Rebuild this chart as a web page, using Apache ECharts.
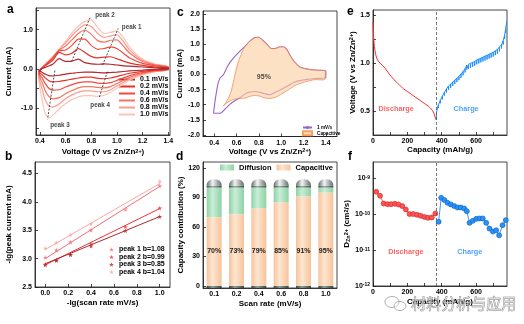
<!DOCTYPE html>
<html><head><meta charset="utf-8">
<script src="https://cdn.jsdelivr.net/npm/echarts@6/dist/echarts.min.js"></script>
<style>html,body{margin:0;padding:0;background:#fff}#c{width:524px;height:324px}</style>
</head><body><div id="c"></div>
<script>
// ================= DATA =================
// Panel a: CV curves at several scan rates
const cvRates = ['0.1 mV/s','0.2 mV/s','0.4 mV/s','0.6 mV/s','0.8 mV/s','1.0 mV/s'];
const vUp   = [0.39,0.41,0.45,0.50,0.55,0.60,0.65,0.70,0.75,0.80,0.85,0.90,0.95,1.00,1.05,1.10,1.20,1.30,1.40];
const vDown = [1.40,1.30,1.20,1.10,1.00,0.95,0.90,0.85,0.80,0.75,0.70,0.65,0.60,0.55,0.50,0.47,0.44,0.42,0.40,0.39];
const iUp01 = [-0.05,0.00,0.05,0.12,0.26,0.19,0.20,0.25,0.16,0.13,0.12,0.13,0.12,0.10,0.08,0.07,0.05,0.03,0.02];
const iUp02 = [-0.08,0.00,0.10,0.22,0.42,0.36,0.40,0.52,0.42,0.32,0.28,0.30,0.31,0.26,0.20,0.15,0.09,0.05,0.03];
const iUp04 = [-0.12,0.00,0.12,0.27,0.46,0.48,0.60,0.76,0.76,0.60,0.50,0.52,0.56,0.52,0.40,0.28,0.14,0.08,0.04];
const iUp06 = [-0.16,0.01,0.13,0.29,0.48,0.58,0.74,0.90,0.99,0.88,0.72,0.68,0.73,0.74,0.58,0.40,0.19,0.10,0.05];
const iUp08 = [-0.20,0.01,0.14,0.30,0.49,0.66,0.85,1.01,1.12,1.08,0.90,0.80,0.84,0.87,0.70,0.48,0.22,0.11,0.05];
const iUp10 = [-0.25,0.02,0.15,0.31,0.50,0.71,0.92,1.09,1.21,1.25,1.05,0.90,0.93,0.97,0.80,0.55,0.25,0.12,0.06];
const iDn01 = [0.00,-0.01,-0.03,-0.05,-0.08,-0.09,-0.10,-0.09,-0.08,-0.08,-0.09,-0.11,-0.13,-0.16,-0.18,-0.17,-0.13,-0.09,-0.06,-0.05];
const iDn02 = [-0.01,-0.03,-0.06,-0.11,-0.19,-0.23,-0.25,-0.24,-0.21,-0.21,-0.23,-0.26,-0.29,-0.32,-0.33,-0.30,-0.22,-0.15,-0.10,-0.08];
const iDn04 = [-0.01,-0.04,-0.09,-0.17,-0.29,-0.35,-0.37,-0.36,-0.33,-0.33,-0.35,-0.40,-0.46,-0.53,-0.54,-0.49,-0.36,-0.24,-0.15,-0.11];
const iDn06 = [-0.02,-0.05,-0.11,-0.21,-0.37,-0.45,-0.48,-0.47,-0.45,-0.45,-0.48,-0.55,-0.63,-0.73,-0.76,-0.70,-0.54,-0.36,-0.22,-0.14];
const iDn08 = [-0.02,-0.06,-0.13,-0.25,-0.43,-0.53,-0.58,-0.58,-0.56,-0.56,-0.59,-0.66,-0.76,-0.89,-0.97,-0.94,-0.78,-0.54,-0.32,-0.18];
const iDn10 = [-0.03,-0.07,-0.15,-0.28,-0.49,-0.60,-0.67,-0.70,-0.68,-0.68,-0.71,-0.78,-0.88,-1.02,-1.18,-1.25,-1.12,-0.82,-0.48,-0.25];
const peakLine1 = [[0.888,0.10],[1.01,1.03]];
const peakLine2 = [[0.647,0.19],[0.795,1.34]];
const peakLine3 = [[0.517,-0.04],[0.46,-1.28]];
const peakLine4 = [[0.925,-0.07],[0.86,-0.75]];
const peakNames = ['peak 1','peak 2','peak 3','peak 4'];
const peakLabelPos = [[1.03,1.06],[0.823,1.36],[0.473,-1.42],[0.785,-0.93]];

// Panel b: log peak current vs log scan rate
const bX = [0, 0.097, 0.22, 0.40, 0.70, 1.0];
const bPeak1 = [3.02, 3.15, 3.29, 3.50, 3.87, 4.28];
const bPeak2 = [2.90, 2.97, 3.07, 3.26, 3.56, 3.89];
const bPeak3 = [2.89, 2.97, 3.07, 3.22, 3.49, 3.74];
const bPeak4 = [3.18, 3.28, 3.42, 3.61, 3.88, 4.36];
const bFitX = [0, 1.0];
const bFit1 = [3.00, 4.27];
const bFit2 = [2.89, 3.88];
const bFit3 = [2.91, 3.74];
const bFit4 = [3.16, 4.32];
const bNames = ['peak 1 b=1.08','peak 2 b=0.99','peak 3 b=0.85','peak 4 b=1.04'];

// Panel c: CV at 1 mV/s and capacitive contribution
const cvV = [0.394,0.41,0.433,0.454,0.484,0.513,0.543,0.588,0.633,0.678,0.722,0.767,0.797,0.833,0.872,0.91,0.946,0.982,1.02,1.05,1.08,1.12,1.17,1.245,1.33,1.39,1.40,1.40,
             1.30,1.215,1.125,1.066,1.006,0.946,0.90,0.857,0.812,0.767,0.722,0.678,0.633,0.588,0.543,0.498,0.454,0.394];
const cvI = [-1.28,-0.83,-0.33,-0.11,0.00,0.22,0.41,0.61,0.78,0.94,1.11,1.22,1.23,1.14,1.00,0.86,0.86,0.91,0.92,0.83,0.63,0.41,0.24,0.17,0.14,0.13,0.11,-0.11,
             -0.13,-0.17,-0.24,-0.36,-0.48,-0.59,-0.67,-0.64,-0.59,-0.56,-0.58,-0.64,-0.76,-0.86,-0.98,-1.14,-1.28,-1.28];
const capV = [0.484,0.498,0.528,0.552,0.573,0.594,0.618,0.648,0.678,0.722,0.767,0.797,0.833,0.872,0.91,0.946,0.982,1.02,1.05,1.08,1.12,1.17,1.245,1.33,1.39,1.395,1.39,
              1.30,1.215,1.125,1.066,1.006,0.946,0.90,0.857,0.812,0.767,0.722,0.678,0.633,0.588,0.543,0.513];
const capI = [-1.03,-0.97,-0.78,-0.56,-0.22,0.11,0.44,0.72,0.94,1.11,1.22,1.23,1.14,1.00,0.86,0.86,0.91,0.92,0.83,0.63,0.41,0.24,0.17,0.14,0.13,0.08,-0.17,
              -0.17,-0.24,-0.36,-0.50,-0.64,-0.76,-0.79,-0.78,-0.72,-0.69,-0.72,-0.78,-0.79,-0.81,-0.87,-0.94];
const capPercentLabel = '95%';
const capLabelPos = [0.845, -0.07];

// Panel d: capacity contribution
const rateLabels = ['0.1','0.2','0.4','0.6','0.8','1.0'];
const capacitivePct = [70, 73, 79, 85, 91, 95];
const diffusionPct = [30, 27, 21, 15, 9, 5];
const capRim = [2, 2, 2, 2, 2, 2];
const capDome = [6.5, 6.5, 6.5, 6.5, 6.5, 6.5];
const capBase = [-2, -2, -2, -2, -2, -2];

// Panel e: GITT curve
const dischargeCap  = [0,3,8,15,24,34,46,58,70,82,94,106,118,130,142,154,166,178,190,202,214,226,238,250,262,274,286,298,310,322,334,346,356,366];
const dischargeV    = [1.42,1.28,1.17,1.09,1.04,1.01,0.99,0.97,0.945,0.915,0.885,0.86,0.835,0.81,0.79,0.77,0.75,0.73,0.715,0.70,0.685,0.67,0.655,0.64,0.625,0.61,0.595,0.58,0.565,0.55,0.53,0.505,0.47,0.41];
const dischargeRest = [1.42,1.28,1.17,1.10,1.055,1.025,1.005,0.985,0.96,0.93,0.90,0.875,0.85,0.825,0.805,0.785,0.765,0.745,0.73,0.715,0.70,0.685,0.67,0.655,0.64,0.625,0.61,0.595,0.58,0.565,0.55,0.525,0.49,0.41];
const chargeCap  = [368,370,380,392,404,416,428,440,452,464,476,488,500,512,524,536,546,556,568,580,592,604,616,628,640,652,664,676,688,700,712,724,736,748,758,766,772,778];
const chargeV    = [0.41,0.49,0.56,0.61,0.655,0.695,0.73,0.76,0.78,0.80,0.82,0.84,0.86,0.885,0.91,0.94,0.975,0.985,0.995,1.005,1.015,1.03,1.04,1.05,1.06,1.07,1.08,1.09,1.10,1.11,1.125,1.14,1.165,1.19,1.23,1.29,1.35,1.43];
const chargeRest = [0.41,0.47,0.53,0.58,0.62,0.66,0.69,0.72,0.74,0.76,0.78,0.80,0.82,0.845,0.87,0.90,0.93,0.94,0.95,0.96,0.97,0.985,0.995,1.005,1.015,1.025,1.035,1.045,1.055,1.065,1.08,1.095,1.12,1.15,1.19,1.25,1.31,1.43];
const dividerCap = 370;

// Panel f: diffusion coefficient
const fDisCap = [19,41,62,84,105,127,148,170,191,213,234,256,277,299,320,342,363];
const fDisD = [4.25e-10,3.3e-10,2.0e-10,1.93e-10,1.93e-10,1.97e-10,1.89e-10,1.7e-10,1.37e-10,1.02e-10,1.02e-10,0.97e-10,0.91e-10,0.85e-10,0.8e-10,0.82e-10,1.06e-10];
const fChCap = [382,397,416,434,453,473,492,511,531,546,562,581,601,620,639,659,678,698,717,734,754,773];
const fChD = [6.2e-11,2.9e-10,2.5e-10,2.1e-10,1.9e-10,1.7e-10,1.56e-10,1.56e-10,1.46e-10,1.23e-10,5.8e-11,6.6e-11,7.5e-11,7.7e-11,7.7e-11,5.8e-11,4.0e-11,3.3e-11,3.6e-11,2.6e-11,5.0e-11,6.9e-11];

// Tick labels
const aXTicks = [0.4,0.6,0.8,1.0,1.2,1.4];
const aYTicks = [-1,0,1];
const aYMinor = [-1.5,-1,-0.5,0,0.5,1,1.5];
const bXTicks = [0,0.2,0.4,0.6,0.8,1.0];
const bYTicks = [2.5,3.0,3.5,4.0,4.5];
const cXTicks = [0.4,0.6,0.8,1.0,1.2,1.4];
const cYTicks = [-2,-1.5,-1,-0.5,0,0.5,1,1.5,2];
const dYTicks = [0,30,60,90,120];
const eXTicks = [0,200,400,600];
const eXMinor = [0,100,200,300,400,500,600,700];
const eYTicks = [0.5,1.0,1.5];
const eYMinor = [0.5,0.75,1.0,1.25,1.5];

// ================= STYLE / BUILD =================
const F = "'Liberation Sans', Arial, sans-serif";
const AX = '#1a1a1a';
const cvColors = ['#b3262b','#e4322b','#f04a3c','#f7725f','#fb9c8e','#fdc3b8'];
const bColors = ['#f26d78','#e8343a','#b3262b','#f8a8a8'];
const star = 'path://M50,0 L61,35 L98,35 L68,57 L79,91 L50,70 L21,91 L32,57 L2,35 L39,35 Z';

function deep(a, b) {
  for (const k in b) {
    const v = b[k];
    if (v && typeof v === 'object' && !Array.isArray(v) && a[k] && typeof a[k] === 'object' && !Array.isArray(a[k])) deep(a[k], v);
    else a[k] = v;
  }
  return a;
}
const richName = {
  n: {fontSize: 8, fontWeight: 'bold', fontFamily: F, color: '#000'},
  s: {fontSize: 5.5, fontWeight: 'bold', fontFamily: F, color: '#000', verticalAlign: 'top'},
  d: {fontSize: 5.5, fontWeight: 'bold', fontFamily: F, color: '#000', verticalAlign: 'bottom'}
};
function axis(gi, o) {
  return deep({
    gridIndex: gi, type: 'value',
    axisLine: {show: true, onZero: false, lineStyle: {color: AX, width: 0.8}},
    axisTick: {show: true, inside: true, length: 3, lineStyle: {color: AX, width: 0.8}},
    axisLabel: {color: '#000', fontSize: 7, fontWeight: 'bold', fontFamily: F, margin: 3},
    splitLine: {show: false},
    nameLocation: 'middle',
    nameTextStyle: {color: '#000', fontSize: 8, fontWeight: 'bold', fontFamily: F, rich: richName}
  }, o);
}
const fx1 = v => Number(v).toFixed(1);

const xAxis = [
  axis(0, {min: 0.37, max: 1.413, name: '{n|Voltage (V vs Zn/Zn}{s|2+}{n|)}', nameGap: 13,
    axisLabel: {customValues: aXTicks, formatter: fx1}, axisTick: {customValues: aXTicks}}),
  axis(1, {min: -0.09, max: 1.09, name: '{n|-lg(scan rate mV/s)}', nameGap: 12,
    axisLabel: {customValues: bXTicks, formatter: fx1}, axisTick: {customValues: bXTicks}}),
  axis(2, {min: 0.3, max: 1.5, name: '{n|Voltage (V vs Zn/Zn}{s|2+}{n|)}', nameGap: 10,
    axisLabel: {customValues: cXTicks, formatter: fx1}, axisTick: {customValues: cXTicks}}),
  axis(3, {type: 'category', data: rateLabels, name: '{n|Scan rate (mV/s)}', nameGap: 12,
    axisTick: {alignWithLabel: true}}),
  axis(4, {min: 0, max: 780, name: '{n|Capacity (mAh/g)}', nameGap: 11,
    axisLabel: {customValues: eXTicks}, axisTick: {customValues: eXMinor}}),
  axis(5, {min: 0, max: 780, name: '{n|Capacity (mAh/g)}', nameGap: 12,
    axisLabel: {customValues: eXTicks}, axisTick: {customValues: eXMinor}})
];
const yAxis = [
  axis(0, {min: -1.68, max: 1.55, name: '{n|Current (mA)}', nameGap: 23,
    axisLabel: {customValues: aYTicks, formatter: fx1}, axisTick: {customValues: aYMinor}}),
  axis(1, {min: 2.5, max: 4.7, name: '{n|-lg(peak current mA)}', nameGap: 22,
    axisLabel: {customValues: bYTicks, formatter: fx1}, axisTick: {customValues: bYTicks}}),
  axis(2, {min: -2.05, max: 2.1, name: '{n|Current (mA)}', nameGap: 16,
    axisLabel: {customValues: cYTicks, formatter: fx1}, axisTick: {customValues: cYTicks}}),
  axis(3, {min: -2, max: 126, name: '{n|Capacity contribution (%)}', nameGap: 16,
    axisLabel: {customValues: dYTicks}, axisTick: {customValues: dYTicks}}),
  axis(4, {min: 0.25, max: 1.55, name: '{n|Voltage (V vs Zn/Zn}{s|2+}{n|)}', nameGap: 15,
    axisLabel: {customValues: eYTicks, formatter: fx1}, axisTick: {customValues: eYMinor}}),
  axis(5, {type: 'log', logBase: 10, min: 1e-12, max: 2.9e-9, name: '{n|D}{d|Zn}{s|2+}{n| (cm}{s|2}{n|/s)}', nameGap: 17,
    axisLabel: {showMaxLabel: false, formatter: v => '{b|10}{s|' + Math.round(Math.log10(v)) + '}',
      rich: {b: {fontSize: 7, fontWeight: 'bold', fontFamily: F, color: '#000'},
             s: {fontSize: 5, fontWeight: 'bold', fontFamily: F, color: '#000', verticalAlign: 'top'}}}})
];

const series = [];
// ---- a ----
const aUps = [iUp01, iUp02, iUp04, iUp06, iUp08, iUp10];
const aDns = [iDn01, iDn02, iDn04, iDn06, iDn08, iDn10];
for (let k = 5; k >= 0; k--) {
  const data = vUp.map((v, i) => [v, aUps[k][i]]).concat(vDown.map((v, i) => [v, aDns[k][i]]));
  data.push(data[0]);
  series.push({type: 'line', name: cvRates[k], xAxisIndex: 0, yAxisIndex: 0, data, smooth: 0.2,
    symbol: 'none', lineStyle: {color: cvColors[k], width: 1.2}, itemStyle: {color: cvColors[k]}, z: 10 - k});
}
[peakLine1, peakLine2, peakLine3, peakLine4].forEach(pl => series.push({
  type: 'line', xAxisIndex: 0, yAxisIndex: 0, data: pl, symbol: 'none', silent: true, z: 20,
  lineStyle: {color: '#222', width: 0.8, type: [2, 1.5]}
}));
series.push({type: 'scatter', xAxisIndex: 0, yAxisIndex: 0, symbolSize: 0, silent: true, z: 21,
  data: peakLabelPos.map((p, i) => ({value: p, name: peakNames[i]})),
  label: {show: true, position: 'right', distance: 1, formatter: p => p.name, color: '#111',
    fontSize: 6.3, fontWeight: 'bold', fontFamily: F}});

// ---- b ----
const bPeaks = [bPeak1, bPeak2, bPeak3, bPeak4];
const bFits = [bFit1, bFit2, bFit3, bFit4];
for (let k = 0; k < 4; k++) {
  series.push({type: 'line', xAxisIndex: 1, yAxisIndex: 1, data: bFitX.map((x, i) => [x, bFits[k][i]]),
    symbol: 'none', silent: true, lineStyle: {color: bColors[k], width: 1}, z: 3});
  series.push({type: 'scatter', name: bNames[k], xAxisIndex: 1, yAxisIndex: 1,
    data: bX.map((x, i) => [x, bPeaks[k][i]]), symbol: star, symbolSize: 5,
    itemStyle: {color: bColors[k]}, z: 5});
}

// ---- c ----
series.push({type: 'line', name: '1 mV/s', xAxisIndex: 2, yAxisIndex: 2, data: cvV.map((v, i) => [v, cvI[i]]),
  smooth: 0.2, symbol: 'none', lineStyle: {color: '#9b62c8', width: 1.1}, itemStyle: {color: '#9b62c8'}, z: 3});
series.push({type: 'custom', name: 'Capacitive', xAxisIndex: 2, yAxisIndex: 2, data: [[0.8, 0]], z: 4, silent: true,
  itemStyle: {color: '#fdd9b5', borderColor: '#f4a260', borderWidth: 0.8},
  renderItem: (params, api) => ({
    type: 'polygon',
    shape: {points: capV.map((v, i) => api.coord([v, capI[i]])), smooth: 0.15},
    style: {fill: 'rgba(252,206,160,0.62)', stroke: 'rgba(240,130,70,0.7)', lineWidth: 1}
  })});
series.push({type: 'scatter', xAxisIndex: 2, yAxisIndex: 2, symbolSize: 0, silent: true, z: 10,
  data: [capLabelPos], label: {show: true, position: 'inside', formatter: capPercentLabel, color: '#222',
    fontSize: 7, fontWeight: 'bold', fontFamily: F}});

// ---- d ----
const cylinder = (edge, mid) => ({type: 'linear', x: 0, y: 0, x2: 1, y2: 0,
  colorStops: [{offset: 0, color: edge}, {offset: 0.4, color: mid}, {offset: 1, color: edge}]});
const barCommon = {type: 'bar', xAxisIndex: 3, yAxisIndex: 3, stack: 'bat', barWidth: 15};
series.push(Object.assign({}, barCommon, {name: 'base', data: capBase, silent: true,
  itemStyle: {color: cylinder('#2f433c', '#8a9b95')}}));
series.push(Object.assign({}, barCommon, {name: 'Capacitive ', data: capacitivePct,
  itemStyle: {color: cylinder('#f7c39a', '#fde6d1')},
  label: {show: true, position: 'insideBottom', distance: 31, formatter: p => p.value + '%',
    color: '#1a1a1a', fontSize: 7, fontWeight: 'bold', fontFamily: F}}));
series.push(Object.assign({}, barCommon, {name: 'Diffusion', data: diffusionPct,
  itemStyle: {color: cylinder('#8ed2a5', '#c9eed6')}}));
series.push(Object.assign({}, barCommon, {name: 'rim', data: capRim, silent: true,
  itemStyle: {color: cylinder('#3c5049', '#9aaba5')}}));
series.push(Object.assign({}, barCommon, {name: 'dome', data: capDome, silent: true,
  itemStyle: {color: cylinder('#5f6c68', '#f2f5f4'), borderRadius: [6, 6, 0, 0]}}));

// ---- e ----
const dischargeData = [];
dischargeCap.forEach((c, i) => { dischargeData.push([c, dischargeV[i]], [c, dischargeRest[i]], [c, dischargeV[i]]); });
const chargeData = [];
chargeCap.forEach((c, i) => { chargeData.push([c, chargeV[i]], [c, chargeRest[i]], [c, chargeV[i]]); });
series.push({type: 'line', xAxisIndex: 4, yAxisIndex: 4, data: dischargeData, symbol: 'none',
  lineStyle: {color: '#ff2e2e', width: 1}, z: 4,
  markLine: {symbol: 'none', silent: true, label: {show: false},
    lineStyle: {type: [3, 2], color: '#555', width: 0.8}, data: [{xAxis: dividerCap}]}});
series.push({type: 'line', xAxisIndex: 4, yAxisIndex: 4, data: chargeData, symbol: 'none',
  lineStyle: {color: '#1e8fff', width: 1}, z: 4});
function textMark(xi, pos, text, color) {
  return {type: 'scatter', xAxisIndex: xi, yAxisIndex: xi, symbolSize: 0, silent: true, z: 10, data: [pos],
    label: {show: true, position: 'inside', formatter: text, color, fontSize: 7.3, fontWeight: 'bold', fontFamily: F}};
}
series.push(textMark(4, [135, 0.52], 'Discharge', '#ff3b3b'));
series.push(textMark(4, [542, 0.52], 'Charge', '#1e8fff'));

// ---- f ----
series.push({type: 'line', xAxisIndex: 5, yAxisIndex: 5, data: fDisCap.map((c, i) => [c, fDisD[i]]),
  symbol: 'circle', symbolSize: 5, showSymbol: true, lineStyle: {color: '#ff4545', width: 0.9},
  itemStyle: {color: '#ff5252', borderColor: '#c62828', borderWidth: 0.6}, z: 4,
  markLine: {symbol: 'none', silent: true, label: {show: false},
    lineStyle: {type: [3, 2], color: '#555', width: 0.8}, data: [{xAxis: dividerCap}]}});
series.push({type: 'line', xAxisIndex: 5, yAxisIndex: 5, data: fChCap.map((c, i) => [c, fChD[i]]),
  symbol: 'circle', symbolSize: 5, showSymbol: true, lineStyle: {color: '#1e8fff', width: 0.9},
  itemStyle: {color: '#2792ff', borderColor: '#0b5fb0', borderWidth: 0.6}, z: 4});
series.push(textMark(5, [191, 9e-12], 'Discharge', '#ff3b3b'));
series.push(textMark(5, [563, 9e-12], 'Charge', '#1e8fff'));

const legTxt = (fs) => ({color: '#000', fontSize: fs, fontWeight: 'bold', fontFamily: F});
const option = {
  animation: false,
  backgroundColor: '#fff',
  grid: [
    {left: 36, top: 8, width: 134, height: 127},
    {left: 35, top: 162, width: 135, height: 125},
    {left: 203, top: 11, width: 134, height: 125.5},
    {left: 203, top: 162, width: 134, height: 126},
    {left: 373, top: 10, width: 134, height: 125},
    {left: 373, top: 162, width: 134, height: 124}
  ].map(g => Object.assign({show: true, borderColor: AX, borderWidth: 0.8, containLabel: false}, g)),
  xAxis, yAxis, series,
  legend: [
    {left: 119, top: 76, orient: 'vertical', itemWidth: 16, itemHeight: 2, itemGap: 0, padding: 0,
      icon: 'rect', selectedMode: false, data: cvRates, textStyle: legTxt(7)},
    {left: 109, top: 246, orient: 'vertical', itemWidth: 5, itemHeight: 5, itemGap: 0.5, padding: 0,
      icon: star, selectedMode: false, data: bNames, textStyle: legTxt(7)},
    {left: 302, top: 125, orient: 'vertical', itemWidth: 9, itemHeight: 4, itemGap: 0.3, padding: 0,
      selectedMode: false, data: ['1 mV/s', {name: 'Capacitive', icon: 'rect'}],
      textStyle: legTxt(4.7)},
    {left: 220, top: 163.5, orient: 'horizontal', itemWidth: 14, itemHeight: 6, itemGap: 5, padding: 0,
      icon: 'rect', selectedMode: false, data: ['Diffusion', 'Capacitive '], textStyle: legTxt(7.5)}
  ],
  graphic: [
    {type: 'text', left: 7, top: 4, style: {text: 'a', font: "bold 12px 'Liberation Sans', Arial", fill: '#000'}},
    {type: 'text', left: 5, top: 151, style: {text: 'b', font: "bold 12px 'Liberation Sans', Arial", fill: '#000'}},
    {type: 'text', left: 177, top: 7, style: {text: 'c', font: "bold 12px 'Liberation Sans', Arial", fill: '#000'}},
    {type: 'text', left: 176, top: 151, style: {text: 'd', font: "bold 12px 'Liberation Sans', Arial", fill: '#000'}},
    {type: 'text', left: 347, top: 6, style: {text: 'e', font: "bold 12px 'Liberation Sans', Arial", fill: '#000'}},
    {type: 'text', left: 348, top: 151, style: {text: 'f', font: "bold 12px 'Liberation Sans', Arial", fill: '#000'}},
    {type: 'ellipse', shape: {cx: 392, cy: 302, rx: 7, ry: 5.5}, style: {fill: 'rgba(255,255,255,0.3)', stroke: '#999', lineWidth: 0.8}, z: 100},
    {type: 'ellipse', shape: {cx: 400, cy: 306, rx: 6, ry: 4.5}, style: {fill: 'rgba(255,255,255,0.3)', stroke: '#999', lineWidth: 0.8}, z: 100},
    {type: 'text', left: 411, top: 295, z: 100, style: {text: '材料分析与应用', font: "15px 'Noto Sans CJK SC'",
      fill: 'rgba(235,235,235,0.55)', stroke: 'rgba(100,100,100,0.85)', lineWidth: 0.6}}
  ]
};
const chart = echarts.init(document.getElementById('c'), null, {renderer: 'canvas'});
chart.setOption(option);
</script>
</body></html>
